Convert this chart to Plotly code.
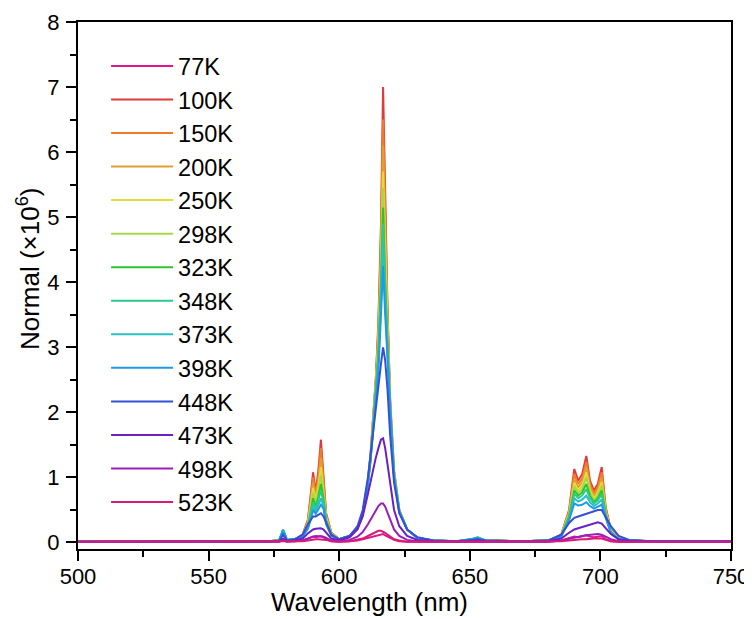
import plotly.graph_objects as go

wavelength = [500, 570, 577, 578.5, 580, 583, 586, 588, 589, 590, 591, 592, 593, 594, 595, 597, 600,
              604, 607, 609, 611, 612, 613, 614, 615, 616, 616.8, 617.6, 618.5, 619.5, 621, 623, 626,
              630, 636, 645, 651, 653, 656, 670, 680, 685, 688, 690, 691.5, 693, 694.6, 696, 697.5,
              699, 700.5, 702, 704, 707, 711, 720, 750]

temps = ["77K", "100K", "150K", "200K", "250K", "298K", "323K", "348K", "373K", "398K",
         "448K", "473K", "498K", "523K"]

colors = ["#E0168C", "#E03A3A", "#F07A2A", "#E0A030", "#E4DA34", "#A8D84A", "#2CC62C",
          "#2EC98C", "#2ABFC0", "#1E9BE8", "#3550D6", "#6A1FC8", "#9A1FB8", "#D81B78"]

s77 = [0.01, 0.01, 0.02, 0.04, 0.02, 0.02, 0.03,
       0.06, 0.08, 0.09, 0.08, 0.09, 0.1, 0.08, 0.05,
       0.02, 0.01, 0.02, 0.03, 0.05, 0.07, 0.08, 0.09, 0.1,
       0.11, 0.12, 0.13, 0.11, 0.09,
       0.07, 0.04, 0.02, 0.01, 0.01, 0.01, 0.01, 0.01, 0.01, 0.01, 0.01, 0.01, 0.03,
       0.06, 0.09, 0.08, 0.09, 0.11, 0.09, 0.08, 0.09, 0.1, 0.05, 0.02,
       0.01, 0.01, 0.01, 0.01]
s100 = [0.01, 0.01, 0.03, 0.17, 0.04, 0.05, 0.12,
        0.35, 0.7, 1.08, 0.78, 1.1, 1.58, 1.0, 0.45,
        0.15, 0.05, 0.1, 0.22, 0.45, 0.95, 1.35, 1.9, 2.5,
        3.4, 4.9, 7.0, 5.2, 3.6,
        2.2, 1.1, 0.5, 0.2, 0.07, 0.03, 0.02, 0.04, 0.06, 0.03, 0.02, 0.03, 0.12,
        0.5, 1.13, 0.95, 1.05, 1.33, 0.95, 0.8, 0.9, 1.16, 0.55, 0.2,
        0.06, 0.03, 0.02, 0.02]
s150 = [0.01, 0.01, 0.03, 0.17, 0.04, 0.05, 0.12,
        0.33, 0.65, 1.0, 0.74, 1.02, 1.45, 0.94, 0.43,
        0.15, 0.05, 0.1, 0.22, 0.45, 0.95, 1.35, 1.9, 2.5,
        3.3, 4.7, 6.5, 4.9, 3.5,
        2.2, 1.1, 0.5, 0.2, 0.07, 0.03, 0.02, 0.04, 0.06, 0.03, 0.02, 0.03, 0.12,
        0.48, 1.05, 0.9, 0.98, 1.24, 0.9, 0.76, 0.85, 1.08, 0.52, 0.2,
        0.06, 0.03, 0.02, 0.02]
s200 = [0.01, 0.01, 0.03, 0.17, 0.04, 0.05, 0.11,
        0.31, 0.6, 0.92, 0.7, 0.93, 1.3, 0.87, 0.4,
        0.14, 0.05, 0.1, 0.22, 0.45, 0.94, 1.33, 1.87, 2.45,
        3.2, 4.5, 6.1, 4.6, 3.4,
        2.15, 1.08, 0.5, 0.2, 0.07, 0.03, 0.02, 0.04, 0.06, 0.03, 0.02, 0.03, 0.11,
        0.46, 0.98, 0.85, 0.92, 1.16, 0.85, 0.72, 0.8, 1.0, 0.5, 0.19,
        0.06, 0.03, 0.02, 0.02]
s250 = [0.01, 0.01, 0.03, 0.18, 0.04, 0.05, 0.11,
        0.29, 0.55, 0.84, 0.65, 0.85, 1.16, 0.8, 0.38,
        0.13, 0.05, 0.1, 0.22, 0.44, 0.93, 1.31, 1.84, 2.4,
        3.1, 4.3, 5.7, 4.4, 3.3,
        2.1, 1.06, 0.49, 0.2, 0.07, 0.03, 0.02, 0.05, 0.07, 0.03, 0.02, 0.03, 0.11,
        0.44, 0.92, 0.8, 0.87, 1.08, 0.8, 0.68, 0.76, 0.93, 0.48, 0.18,
        0.06, 0.03, 0.02, 0.02]
s298 = [0.01, 0.01, 0.03, 0.19, 0.04, 0.05, 0.1,
        0.27, 0.5, 0.76, 0.6, 0.78, 1.03, 0.74, 0.36,
        0.12, 0.05, 0.1, 0.22, 0.44, 0.92, 1.3, 1.82, 2.36,
        3.0, 4.15, 5.45, 4.2, 3.2,
        2.08, 1.05, 0.49, 0.2, 0.07, 0.03, 0.02, 0.05, 0.07, 0.03, 0.02, 0.03, 0.1,
        0.42, 0.86, 0.76, 0.82, 1.0, 0.76, 0.65, 0.72, 0.87, 0.46, 0.17,
        0.06, 0.03, 0.02, 0.02]
s323 = [0.01, 0.01, 0.03, 0.2, 0.04, 0.05, 0.1,
        0.25, 0.45, 0.68, 0.55, 0.7, 0.9, 0.67, 0.34,
        0.12, 0.05, 0.1, 0.22, 0.44, 0.92, 1.29, 1.8, 2.32,
        2.9, 4.0, 5.15, 4.0, 3.1,
        2.05, 1.04, 0.48, 0.2, 0.07, 0.03, 0.02, 0.05, 0.08, 0.03, 0.02, 0.03, 0.1,
        0.4, 0.8, 0.72, 0.77, 0.9, 0.72, 0.62, 0.68, 0.8, 0.44, 0.16,
        0.05, 0.03, 0.02, 0.02]
s348 = [0.01, 0.01, 0.03, 0.2, 0.04, 0.05, 0.1,
        0.24, 0.42, 0.62, 0.5, 0.64, 0.8, 0.62, 0.32,
        0.11, 0.05, 0.1, 0.22, 0.44, 0.91, 1.28, 1.78, 2.28,
        2.85, 3.85, 4.9, 3.85, 3.0,
        2.02, 1.03, 0.48, 0.2, 0.07, 0.03, 0.02, 0.05, 0.08, 0.03, 0.02, 0.03, 0.1,
        0.38, 0.75, 0.68, 0.72, 0.82, 0.68, 0.6, 0.65, 0.74, 0.42, 0.16,
        0.05, 0.03, 0.02, 0.02]
s373 = [0.01, 0.01, 0.03, 0.19, 0.04, 0.05, 0.09,
        0.22, 0.38, 0.55, 0.46, 0.58, 0.68, 0.56, 0.3,
        0.11, 0.05, 0.1, 0.22, 0.44, 0.9, 1.27, 1.75, 2.22,
        2.75, 3.7, 4.6, 3.7, 2.9,
        1.98, 1.02, 0.47, 0.2, 0.07, 0.03, 0.02, 0.05, 0.07, 0.03, 0.02, 0.03, 0.1,
        0.36, 0.68, 0.63, 0.66, 0.72, 0.62, 0.56, 0.6, 0.66, 0.4, 0.15,
        0.05, 0.03, 0.02, 0.02]
s398 = [0.01, 0.01, 0.03, 0.18, 0.04, 0.05, 0.09,
        0.21, 0.34, 0.5, 0.44, 0.52, 0.58, 0.52, 0.28,
        0.1, 0.05, 0.1, 0.22, 0.43, 0.89, 1.25, 1.72, 2.16,
        2.65, 3.5, 4.25, 3.5, 2.8,
        1.95, 1.0, 0.47, 0.2, 0.07, 0.03, 0.02, 0.05, 0.07, 0.03, 0.02, 0.03, 0.09,
        0.34, 0.6, 0.57, 0.58, 0.62, 0.56, 0.52, 0.55, 0.58, 0.38, 0.15,
        0.05, 0.03, 0.02, 0.02]
s448 = [0.01, 0.01, 0.02, 0.12, 0.03, 0.05, 0.12,
        0.28, 0.35, 0.4, 0.4, 0.43, 0.45, 0.4, 0.3,
        0.12, 0.05, 0.1, 0.25, 0.5, 1.0, 1.35, 1.75, 2.15,
        2.45, 2.75, 3.0, 2.8, 2.35,
        1.65, 0.92, 0.45, 0.2, 0.08, 0.03, 0.02, 0.04, 0.05, 0.03, 0.02, 0.03, 0.12,
        0.3, 0.38, 0.4, 0.42, 0.45, 0.47, 0.48, 0.5, 0.5, 0.4, 0.25,
        0.1, 0.04, 0.02, 0.02]
s473 = [0.01, 0.01, 0.02, 0.06, 0.02, 0.03, 0.06,
        0.14, 0.17, 0.2, 0.21, 0.22, 0.22, 0.2, 0.15,
        0.06, 0.03, 0.08, 0.2, 0.4, 0.75, 0.95, 1.15, 1.3,
        1.45, 1.58, 1.6, 1.45, 1.2,
        0.9, 0.5, 0.25, 0.1, 0.04, 0.02, 0.01, 0.02, 0.03, 0.02, 0.01, 0.02, 0.06,
        0.15, 0.2, 0.22, 0.24, 0.26, 0.28, 0.3, 0.31, 0.29, 0.22, 0.13,
        0.05, 0.02, 0.01, 0.01]
s498 = [0.01, 0.01, 0.01, 0.03, 0.01, 0.02, 0.03,
        0.06, 0.08, 0.09, 0.1, 0.1, 0.1, 0.09, 0.07,
        0.03, 0.02, 0.04, 0.09, 0.16, 0.28, 0.35, 0.43, 0.5,
        0.56, 0.6, 0.6, 0.55, 0.46,
        0.35, 0.2, 0.1, 0.04, 0.02, 0.01, 0.01, 0.01, 0.02, 0.01, 0.01, 0.01, 0.03,
        0.06, 0.08, 0.09, 0.1, 0.11, 0.12, 0.13, 0.13, 0.12, 0.09, 0.05,
        0.02, 0.01, 0.01, 0.01]
s523 = [0.01, 0.01, 0.01, 0.02, 0.01, 0.01, 0.02,
        0.03, 0.04, 0.05, 0.05, 0.05, 0.05, 0.05, 0.04,
        0.02, 0.01, 0.02, 0.04, 0.06, 0.1, 0.12, 0.14, 0.16,
        0.18, 0.18, 0.17, 0.15, 0.12,
        0.09, 0.05, 0.03, 0.01, 0.01, 0.01, 0.01, 0.01, 0.01, 0.01, 0.01, 0.01, 0.02,
        0.03, 0.04, 0.05, 0.05, 0.05, 0.06, 0.06, 0.06, 0.06, 0.04, 0.02,
        0.01, 0.01, 0.01, 0.01]

series = [s77, s100, s150, s200, s250, s298, s323, s348, s373, s398, s448, s473, s498, s523]

FONT = "Arial, Liberation Sans, sans-serif"

fig = go.Figure()
for name, col, ys in zip(temps, colors, series):
    fig.add_trace(go.Scatter(x=wavelength, y=ys, mode="lines", name=name,
                             line=dict(color=col, width=2)))

axis_common = dict(showline=True, linecolor="black", linewidth=2, mirror=True,
                   ticks="outside", ticklen=10, tickwidth=2, tickcolor="black",
                   showgrid=False, zeroline=False, automargin=False,
                   tickfont=dict(family=FONT, size=22, color="black"))

fig.update_xaxes(range=[500, 750], dtick=50, tick0=500, ticklabelstandoff=-3,
                 minor=dict(dtick=25, ticks="outside", ticklen=6, tickwidth=2, tickcolor="black"),
                 **axis_common)
fig.update_yaxes(range=[-0.1, 8], dtick=1, tick0=0, ticklabelstandoff=2,
                 minor=dict(dtick=0.5, ticks="outside", ticklen=6, tickwidth=2, tickcolor="black"),
                 **axis_common)

# page body has an 8px margin, so the figure is sized to fill the rest of the window
fig.update_layout(
    width=744, height=611,
    margin=dict(l=70, r=21, t=14, b=70),
    paper_bgcolor="white", plot_bgcolor="white",
    font=dict(family=FONT, color="black"),
    legend=dict(x=0.043, y=0.958, xanchor="left", yanchor="top",
                font=dict(family=FONT, size=23.5, color="black"),
                bgcolor="rgba(0,0,0,0)", itemwidth=62, tracegroupgap=0),
    annotations=[
        dict(text="Wavelength (nm)", xref="paper", yref="paper", x=0.447, y=-0.1,
             xanchor="center", yanchor="middle", showarrow=False,
             font=dict(family=FONT, size=26, color="black")),
        dict(text="Normal (×10<sup>6</sup>)", xref="paper", yref="paper", x=-0.0766, y=0.533,
             xanchor="center", yanchor="middle", textangle=-90, showarrow=False,
             font=dict(family=FONT, size=26, color="black")),
    ],
)

fig.write_html("out.html")
